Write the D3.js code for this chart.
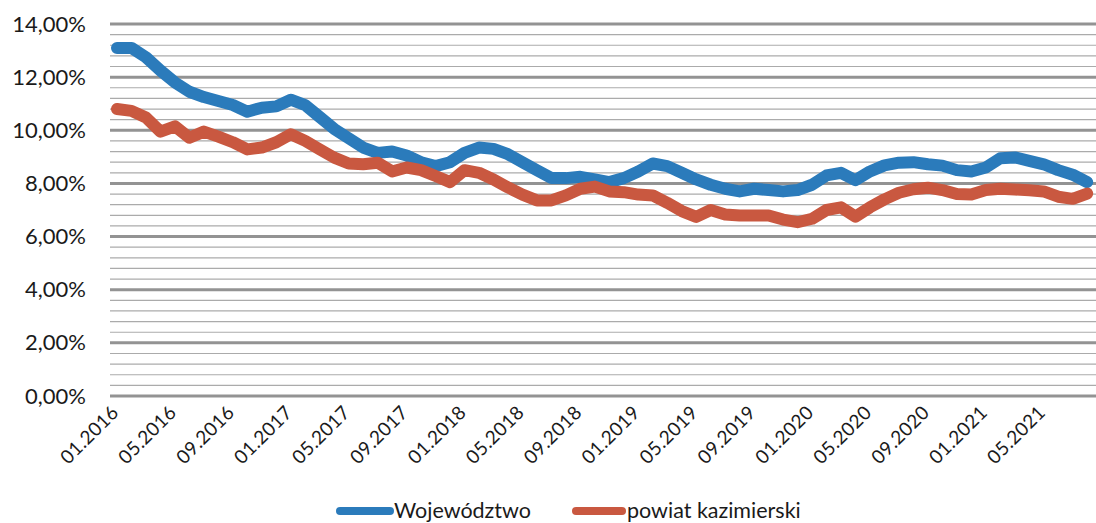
<!DOCTYPE html>
<html><head><meta charset="utf-8">
<script src="https://cdn.jsdelivr.net/npm/d3@7/dist/d3.min.js"></script>
<style>
body{margin:0;background:#fff;}
svg{display:block;font-family:Lato, "Open Sans", sans-serif;}
</style></head>
<body><svg id="c" width="1096" height="523"></svg>
<script>
const months = [];
for (let y = 2016; y <= 2021; y++) for (let m = 1; m <= 12; m++) { if (y === 2021 && m > 8) break; months.push(String(m).padStart(2,"0") + "." + y); }
const tickLabels = months.filter((d,i) => i % 4 === 0);
const yTicks = [0,2,4,6,8,10,12,14];
const seriesNames = ["Województwo","powiat kazimierski"];
const wojewodztwo = [13.1,13.1,12.75,12.25,11.8,11.45,11.25,11.1,10.95,10.7,10.85,10.9,11.15,10.95,10.5,10.05,9.7,9.35,9.15,9.2,9.05,8.8,8.65,8.8,9.15,9.35,9.3,9.1,8.8,8.5,8.2,8.2,8.25,8.15,8.05,8.2,8.45,8.75,8.65,8.4,8.15,7.95,7.8,7.7,7.8,7.75,7.7,7.75,7.95,8.3,8.4,8.12,8.45,8.68,8.78,8.8,8.72,8.67,8.5,8.45,8.6,8.95,8.98,8.85,8.72,8.5,8.33,8.05];
const kazimierski = [10.8,10.73,10.48,9.95,10.15,9.72,9.95,9.76,9.55,9.28,9.35,9.55,9.85,9.6,9.28,8.97,8.75,8.72,8.78,8.45,8.6,8.5,8.28,8.05,8.5,8.4,8.15,7.85,7.58,7.36,7.36,7.55,7.8,7.88,7.7,7.67,7.58,7.55,7.27,6.96,6.74,7.0,6.83,6.79,6.79,6.79,6.64,6.54,6.67,7.0,7.1,6.75,7.1,7.4,7.65,7.78,7.84,7.75,7.6,7.58,7.75,7.8,7.77,7.74,7.7,7.5,7.42,7.62];
const colors = ["#2b7bbb","#c95840"];

const svg = d3.select("#c");
const plotLeft = 110, plotRight = 1096;
const x = d3.scalePoint().domain(months).range([117, 117 + 14.48*(months.length-1)]);
const y = d3.scaleLinear().domain([0,14]).range([396, 24]);

const minor = d3.range(0, 14.001, 0.4).filter(v => Math.abs(v/2 - Math.round(v/2)) > 0.01);
svg.append("g").selectAll("line").data(minor).join("line")
  .attr("x1", plotLeft).attr("x2", plotRight)
  .attr("y1", d => y(d)).attr("y2", d => y(d))
  .attr("stroke", "#ababab").attr("stroke-width", 1.2);
svg.append("g").selectAll("line").data(yTicks).join("line")
  .attr("x1", plotLeft).attr("x2", plotRight)
  .attr("y1", d => y(d)).attr("y2", d => y(d))
  .attr("stroke", "#939393").attr("stroke-width", 3);

const yAxis = d3.axisLeft(y).tickValues(yTicks).tickSize(0).tickPadding(0)
  .tickFormat(d => d3.format(".2f")(d).replace(".", ",") + "%");
const ya = svg.append("g").attr("transform", "translate(86,0)").call(yAxis);
ya.select(".domain").remove();
ya.selectAll("text").attr("font-size", 22).attr("font-family", "Lato, sans-serif").attr("fill", "#1a1a1a");

const xAxis = d3.axisBottom(x).tickValues(tickLabels).tickSize(0).tickPadding(0);
const xa = svg.append("g").call(xAxis);
xa.select(".domain").remove();
xa.selectAll(".tick").attr("transform", d => `translate(${x(d)-2},409)`);
xa.selectAll("text").attr("font-size", 19).attr("font-family", "Lato, sans-serif").attr("fill", "#1a1a1a")
  .attr("text-anchor", "end").attr("dy", "0.35em").attr("y", 0)
  .attr("letter-spacing", "0.3px")
  .attr("transform", "rotate(-45)");

const line = d3.line().x((d,i) => x(months[i])).y(d => y(d));
[wojewodztwo, kazimierski].forEach((s, k) => {
  svg.append("path").datum(s).attr("d", line)
    .attr("fill", "none").attr("stroke", colors[k]).attr("stroke-width", 12)
    .attr("stroke-linejoin", "round").attr("stroke-linecap", "round");
});

const legend = [{x0:340, x1:390, tx:394}, {x0:576, x1:622, tx:627}];
legend.forEach((l, k) => {
  svg.append("line").attr("x1", l.x0).attr("x2", l.x1).attr("y1", 511).attr("y2", 511)
    .attr("stroke", colors[k]).attr("stroke-width", 8).attr("stroke-linecap", "round");
  svg.append("text").attr("x", l.tx).attr("y", 518).attr("font-size", 21.5)
    .attr("font-family", "Lato, sans-serif").attr("fill", "#1a1a1a").text(seriesNames[k]);
});
</script></body></html>
